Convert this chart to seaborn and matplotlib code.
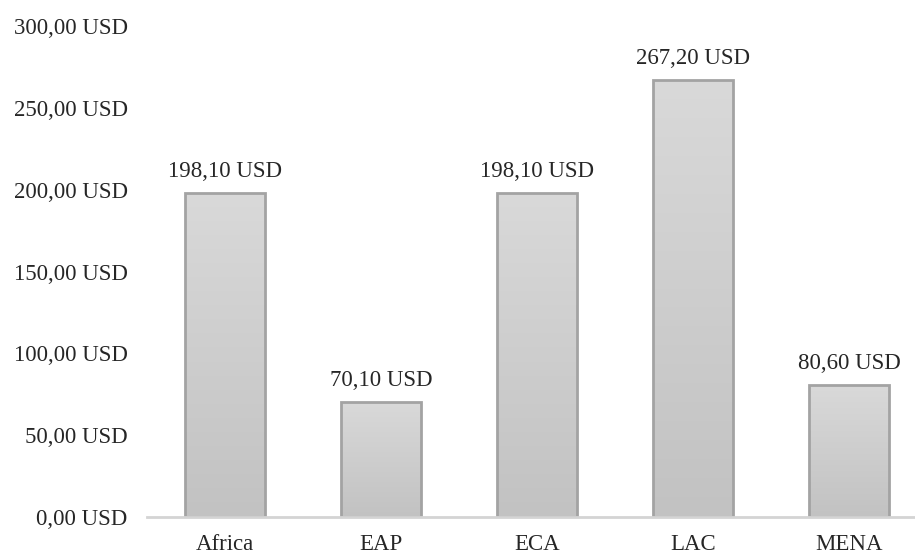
import numpy as np
import pandas as pd
import matplotlib
matplotlib.use("Agg")
import matplotlib.pyplot as plt
from matplotlib.colors import LinearSegmentedColormap
import seaborn as sns

regions = ["Africa", "EAP", "ECA", "LAC", "MENA"]
values = [198.10, 70.10, 198.10, 267.20, 80.60]
y_ticks = [0, 50, 100, 150, 200, 250, 300]


def usd(v):
    return f"{v:.2f}".replace(".", ",") + " USD"


sns.set_theme(style="white")
plt.rcParams["font.family"] = ["Liberation Serif", "DejaVu Serif"]
text_color = "#262626"

df = pd.DataFrame({"region": regions, "value": values})

fig = plt.figure(figsize=(9.15, 5.53), dpi=100)
ax = fig.add_axes([147 / 915, 36 / 553, 780 / 915, 491 / 553])

sns.barplot(data=df, x="region", y="value", ax=ax, width=0.51,
            color="#cccccc", edgecolor="#a3a3a3", linewidth=2.0,
            saturation=1)

# vertical gradient fill inside each bar
grad_cmap = LinearSegmentedColormap.from_list("bar", ["#c2c2c2", "#d9d9d9"])
grad = np.linspace(0, 1, 256).reshape(-1, 1)
for patch in ax.patches:
    x0, y0 = patch.get_x(), patch.get_y()
    w, h = patch.get_width(), patch.get_height()
    img = ax.imshow(grad, cmap=grad_cmap, origin="lower", aspect="auto",
                    extent=[x0, x0 + w, y0, y0 + h], zorder=patch.get_zorder() - 0.1,
                    interpolation="bilinear")
    img.set_clip_path(patch)
    patch.set_facecolor("none")
ax.set_ylim(0, 300)
ax.set_xlim(-0.5, len(regions) - 0.5)

for patch, v in zip(ax.patches, values):
    ax.annotate(usd(v), (patch.get_x() + patch.get_width() / 2, v),
                xytext=(0, 8), textcoords="offset points",
                ha="center", va="bottom", fontsize=16.5, color=text_color)

ax.set_yticks(y_ticks)
ax.set_yticklabels([usd(t) for t in y_ticks])
ax.tick_params(axis="y", length=0, pad=14, labelsize=16.5, labelcolor=text_color)
ax.tick_params(axis="x", length=0, pad=12, labelsize=16.5, labelcolor=text_color)
ax.set_xlabel("")
ax.set_ylabel("")

for side in ["top", "right", "left"]:
    ax.spines[side].set_visible(False)
ax.spines["bottom"].set_color("#d4d4d4")
ax.spines["bottom"].set_linewidth(2.0)

fig.savefig("out.png", dpi=100)
